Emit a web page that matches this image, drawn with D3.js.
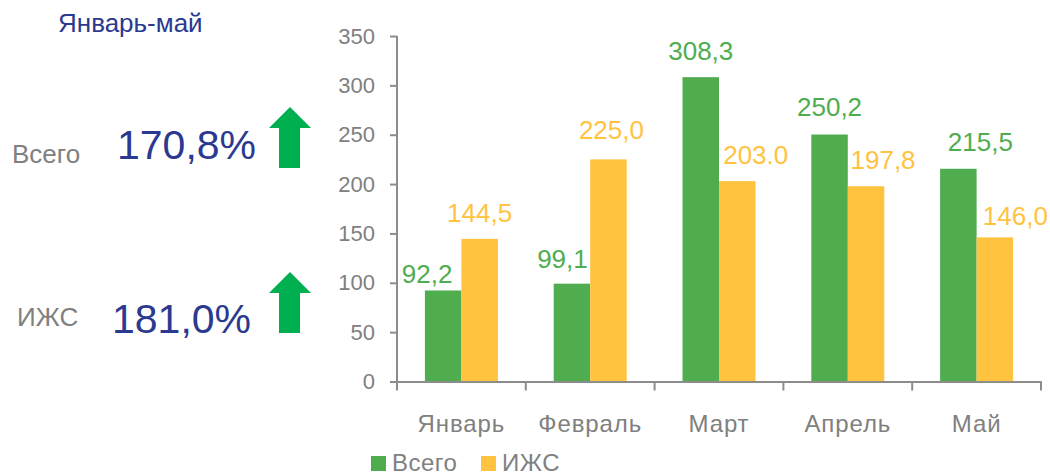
<!DOCTYPE html>
<html>
<head>
<meta charset="utf-8">
<script src="https://cdn.jsdelivr.net/npm/d3@7"></script>
<style>
	body{ margin:0; background:#fff; }
	svg{ display:block; font-family:"Liberation Sans", Arial, sans-serif; }
</style>
</head>
<body>
<div id="chart"></div>
<script>
var months = ["Январь", "Февраль", "Март", "Апрель", "Май"];
var seriesNames = ["Всего", "ИЖС"];
var totalValues = [92.2, 99.1, 308.3, 250.2, 215.5];
var izhsValues = [144.5, 225.0, 203.0, 197.8, 146.0];
var totalLabels = ["92,2", "99,1", "308,3", "250,2", "215,5"];
var izhsLabels = ["144,5", "225,0", "203.0", "197,8", "146,0"];
var yTicks = [0, 50, 100, 150, 200, 250, 300, 350];

var periodTitle = "Январь-май";
var summaryNames = ["Всего", "ИЖС"];
var summaryValues = ["170,8%", "181,0%"];

// hand placed label nudges, as in the original sheet
var totalNudge = [[-16, 9], [-9.5, 1], [0, 0], [0, -2], [22, -1]];
var izhsNudge = [[0, 0], [3, -3], [18.5, 0], [17, 0], [20.5, 5]];

var colors = ["#4fad4f", "#ffc33f"];
var grey = "#808080";
var navy = "#2b3990";

var width = 1050, height = 475;

var svg = d3.select("#chart").append("svg")
	.attr("width", width)
	.attr("height", height);

var x = d3.scaleBand()
	.domain(months)
	.range([397, 1041]);

var groupWidth = 73;
var x1 = d3.scaleBand()
	.domain(seriesNames)
	.range([0, groupWidth]);

var y = d3.scaleLinear()
	.domain([0, 350])
	.range([381.5, 36]);

var rows = months.map(function(m, i){
	return [
		{month: m, s: 0, value: totalValues[i], label: totalLabels[i], nudge: totalNudge[i]},
		{month: m, s: 1, value: izhsValues[i], label: izhsLabels[i], nudge: izhsNudge[i]}
	];
});

// bars
var groups = svg.append("g")
		.selectAll("g")
		.data(rows)
	.enter().append("g")
		.attr("transform", function(d){
			return "translate(" + (x(d[0].month) + (x.bandwidth() - groupWidth) / 2) + ",0)";
		});

groups.selectAll("rect")
		.data(function(d){ return d; })
	.enter().append("rect")
		.attr("x", function(d){ return x1(seriesNames[d.s]); })
		.attr("y", function(d){ return y(d.value); })
		.attr("width", x1.bandwidth())
		.attr("height", function(d){ return y(0) - y(d.value); })
		.style("fill", function(d){ return colors[d.s]; });

groups.selectAll("text")
		.data(function(d){ return d; })
	.enter().append("text")
		.attr("x", function(d){ return x1(seriesNames[d.s]) + x1.bandwidth() / 2 + d.nudge[0]; })
		.attr("y", function(d){ return y(d.value) - 26 + d.nudge[1]; })
		.attr("dy", "0.35em")
		.attr("text-anchor", "middle")
		.style("font-size", "26px")
		.style("fill", function(d){ return colors[d.s]; })
		.text(function(d){ return d.label; });

// y axis
var yAxis = svg.append("g")
	.attr("transform", "translate(397,0)")
	.call(d3.axisLeft(y).tickValues(yTicks).tickSize(7).tickPadding(15).tickFormat(d3.format("d")));

yAxis.select(".domain").attr("d", "M0," + y(350) + "V" + y(0));

// x axis
var xAxis = svg.append("g")
	.attr("transform", "translate(0," + y(0) + ")")
	.call(d3.axisBottom(x).tickSize(0).tickPadding(33));

xAxis.append("g")
		.selectAll("line")
		.data(months.concat(["_end"]))
	.enter().append("line")
		.attr("x1", function(d, i){ return 397 + i * x.bandwidth(); })
		.attr("x2", function(d, i){ return 397 + i * x.bandwidth(); })
		.attr("y1", 0)
		.attr("y2", 9);

svg.selectAll(".domain, .tick line, g line")
	.style("stroke", "#8c8c8c")
	.style("stroke-width", 2);

svg.selectAll(".tick text")
	.style("fill", grey)
	.style("font-family", "'Liberation Sans', Arial, sans-serif");
yAxis.selectAll(".tick text").style("font-size", "22px");
xAxis.selectAll(".tick text")
	.style("font-size", "24px")
	.style("letter-spacing", "0.9px");

// legend
var legend = svg.append("g")
	.attr("transform", "translate(371,456)");

var legendItems = legend.selectAll("g")
		.data(seriesNames)
	.enter().append("g")
		.attr("transform", function(d, i){ return "translate(" + (i * 110) + ",0)"; });

legendItems.append("rect")
	.attr("width", 15)
	.attr("height", 15)
	.style("fill", function(d, i){ return colors[i]; });

legendItems.append("text")
	.attr("x", 21)
	.attr("y", 15)
	.style("font-size", "24px")
	.style("letter-spacing", "0.5px")
	.style("fill", grey)
	.text(function(d){ return d; });

// left summary panel
svg.append("text")
	.attr("x", 58)
	.attr("y", 32)
	.style("font-size", "26px")
	.style("fill", navy)
	.text(periodTitle);

var summary = svg.append("g")
		.selectAll("g")
		.data(summaryNames)
	.enter().append("g");

summary.append("text")
	.attr("x", function(d, i){ return i ? 17 : 12; })
	.attr("y", function(d, i){ return i ? 326 : 163; })
	.style("font-size", "26px")
	.style("fill", grey)
	.text(function(d){ return d; });

summary.append("text")
	.attr("x", function(d, i){ return i ? 112 : 117; })
	.attr("y", function(d, i){ return i ? 333 : 159; })
	.style("font-size", "41px")
	.style("fill", navy)
	.text(function(d, i){ return summaryValues[i]; });

// up arrows
summary.append("path")
	.attr("transform", function(d, i){ return "translate(0," + (i ? 165 : 0) + ")"; })
	.attr("d", "M290,107L311,128H300V168H279V128H269Z")
	.style("fill", "#00b050");
</script>
</body>
</html>
